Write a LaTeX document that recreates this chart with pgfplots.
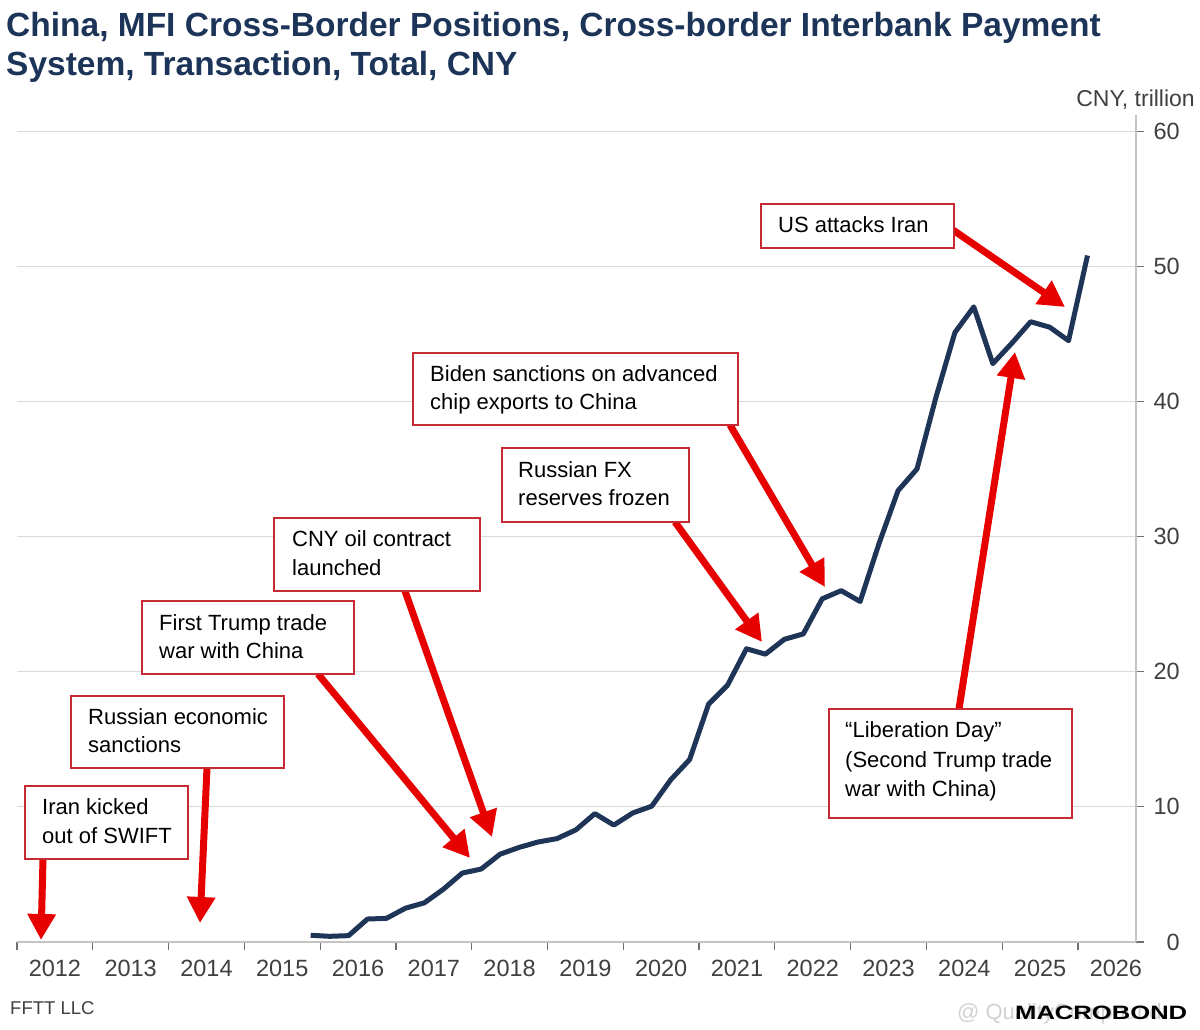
\documentclass[border=0pt]{standalone}
\usepackage{fontspec}
\setmainfont{Liberation Sans}
\usepackage{pgfplots}
\pgfplotsset{compat=1.18}
\usetikzlibrary{arrows.meta}
\definecolor{navy}{HTML}{1F3557}
\definecolor{titlenavy}{HTML}{1C3458}
\definecolor{arrred}{HTML}{E60000}
\definecolor{boxred}{HTML}{C62A32}
\definecolor{gridgray}{HTML}{D9D9D9}
\definecolor{axgray}{HTML}{C4C4C4}
\definecolor{tickgray}{HTML}{707070}
\definecolor{txtgray}{HTML}{404040}
\newcommand{\ann}{\fontsize{22bp}{26bp}\selectfont}
\newcommand{\tfont}{\fontsize{33.5bp}{40bp}\selectfont\bfseries}

\pgfplotstableread{
x y
2015.875 0.50
2016.125 0.42
2016.375 0.47
2016.625 1.70
2016.875 1.75
2017.125 2.50
2017.375 2.90
2017.625 3.90
2017.875 5.10
2018.125 5.40
2018.375 6.50
2018.625 7.00
2018.875 7.40
2019.125 7.65
2019.375 8.30
2019.625 9.50
2019.875 8.65
2020.125 9.55
2020.375 10.05
2020.625 12.00
2020.875 13.50
2021.125 17.60
2021.375 19.00
2021.625 21.70
2021.875 21.30
2022.125 22.40
2022.375 22.80
2022.625 25.40
2022.875 26.00
2023.125 25.20
2023.375 29.50
2023.625 33.40
2023.875 35.00
2024.125 40.30
2024.375 45.10
2024.625 47.00
2024.875 42.80
2025.125 44.30
2025.375 45.90
2025.625 45.50
2025.875 44.50
2026.125 50.80
}\cips

\begin{document}
\begin{tikzpicture}
\path[use as bounding box] (0,0) rectangle (1200bp,1030bp);
\begin{axis}[
  at={(17bp,88bp)}, anchor=south west,
  scale only axis, width=1119bp, height=827bp,
  xmin=2012, xmax=2026.765, ymin=0, ymax=61.2,
  axis x line*=bottom, axis y line*=right,
  axis line style={-, axgray, line width=1.2bp},
  xtick={2012,2013,...,2026}, xticklabel=\empty,
  extra x ticks={2012.5,2013.5,...,2026.5},
  extra x tick labels={2012,2013,2014,2015,2016,2017,2018,2019,2020,2021,2022,2023,2024,2025,2026},
  extra x tick style={tick style={draw=none}},
  ytick={0,10,...,60},
  tick align=outside, major tick length=8bp,
  tick style={tickgray, line width=1.2bp},
  ymajorgrids, grid style={gridgray, line width=1.2bp},
  /pgf/number format/assume math mode=true,
  ticklabel style={font=\fontsize{23.5bp}{27bp}\selectfont, text=txtgray, inner sep=0pt},
  xticklabel style={anchor=base, yshift=-26bp},
  yticklabel style={anchor=east, xshift=36bp},
  clip=false,
]
\addplot[navy, line width=5bp, line join=round] table[x=x,y=y] {\cips};
\end{axis}

\begin{scope}[x=1bp, y=-1bp, shift={(0,1030bp)}]
% arrows
\tikzset{arr/.style={arrred, line width=7bp, -{Triangle[width=27bp,length=26bp]}}}
\draw[arr] (43,859) -- (41,940);
\draw[arr] (207,768) -- (200,923);
\draw[arr] (318,674) -- (470,858);
\draw[arr] (405,591) -- (492,837);
\draw[arr] (675,522) -- (762,642);
\draw[arr] (730,425) -- (825,587);
\draw[arr] (953,230) -- (1065,307);
\draw[arr] (959,709) -- (1015,352);
% boxes
\tikzset{bx/.style={boxred, line width=1.3bp, fill=white}}
\draw[bx] (25,786) rectangle (188,859);
\draw[bx] (71,696) rectangle (284,768);
\draw[bx] (142,601) rectangle (354,674);
\draw[bx] (274,518) rectangle (480,591);
\draw[bx] (502,448) rectangle (689,522);
\draw[bx] (413,353) rectangle (738,425);
\draw[bx] (761,204) rectangle (954,248);
\draw[bx] (829,709) rectangle (1072,818);
% texts
\tikzset{tx/.style={anchor=base west, inner sep=0pt, font=\ann, text=black}}
\node[tx] at (42,815) {Iran kicked};
\node[tx] at (42,844) {out of SWIFT};
\node[tx] at (88,725) {Russian economic};
\node[tx] at (88,753) {sanctions};
\node[tx] at (159,631) {First Trump trade};
\node[tx] at (159,659) {war with China};
\node[tx] at (292,547) {CNY oil contract};
\node[tx] at (292,576) {launched};
\node[tx] at (518,478) {Russian FX};
\node[tx] at (518,506) {reserves frozen};
\node[tx] at (430,382) {Biden sanctions on advanced};
\node[tx] at (430,410) {chip exports to China};
\node[tx] at (778,233) {US attacks Iran};
\node[tx] at (845,738) {“Liberation Day”};
\node[tx] at (845,768) {(Second Trump trade};
\node[tx] at (845,797) {war with China)};
% title and labels
\node[anchor=base west, inner sep=0pt, font=\tfont, text=titlenavy] at (6,37) {China, MFI Cross-Border Positions, Cross-border Interbank Payment};
\node[anchor=base west, inner sep=0pt, font=\tfont, text=titlenavy] at (6,76) {System, Transaction, Total, CNY};
\node[anchor=base east, inner sep=0pt, font=\fontsize{23bp}{27bp}\selectfont, text=txtgray] at (1195,107) {CNY, trillion};
\node[anchor=base west, inner sep=0pt, font=\fontsize{18.5bp}{22bp}\selectfont, text=txtgray] at (10,1015) {FFTT LLC};
\node[anchor=base west, inner sep=0pt, font=\fontsize{22bp}{26bp}\selectfont, text=black!18] at (957,1020) {@ QualityCompound};
\node[anchor=base west, inner sep=0pt] at (1015,1020) {\resizebox{172bp}{13.5bp}{\bfseries MACROBOND}};
\end{scope}
\end{tikzpicture}
\end{document}
